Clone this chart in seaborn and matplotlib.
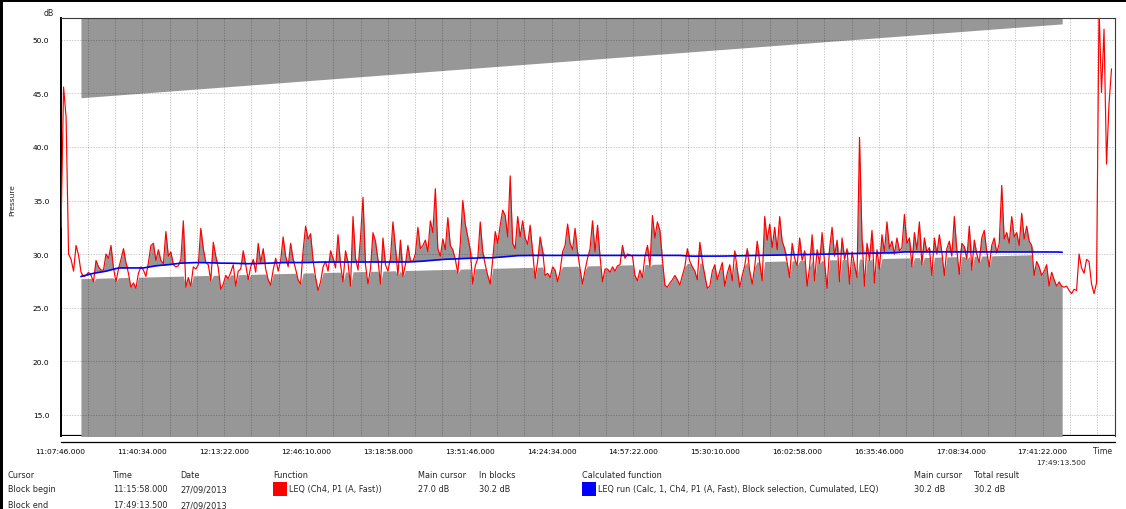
import numpy as np
import pandas as pd
import matplotlib
matplotlib.use('Agg')
import matplotlib.pyplot as plt
from matplotlib.lines import Line2D
from matplotlib.patches import Rectangle
from matplotlib.ticker import FixedLocator, FuncFormatter
import seaborn as sns


def hms(s):
    h, m, sec = s.split(':')
    return int(h) * 3600 + int(m) * 60 + float(sec)


def fmt_time(v, pos=None):
    v = int(round(v))
    return f'{v // 3600:02d}:{v % 3600 // 60:02d}:{v % 60:02d}.000'


axis_start = '11:07:46.000'
axis_end = '18:10:24.000'
tick_step_s = 1968
block_begin = '11:15:58.000'
block_end = '17:49:13.500'

# LEQ (Ch4, P1 (A, Fast)), one value per minute
red_start = '11:08:00'
red_step_s = 60
leq_fast = [
    32.5, 45.6, 42.8, 30.0, 29.5, 28.4, 30.8, 29.9, 28.3, 27.9,
    28.0, 28.3, 28.0, 27.4, 29.4, 28.8, 28.5, 28.5, 30.0, 29.6,
    30.8, 28.7, 27.4, 28.6, 29.5, 30.5, 29.2, 28.2, 26.9, 27.3,
    26.8, 28.2, 28.8, 28.5, 27.9, 29.2, 30.8, 31.0, 29.4, 30.4,
    29.4, 29.1, 32.1, 29.8, 30.2, 29.0, 28.8, 28.9, 29.5, 33.1,
    26.9, 27.8, 27.0, 28.8, 28.6, 29.0, 32.4, 30.5, 29.2, 29.0,
    27.5, 31.1, 29.8, 28.7, 26.7, 27.2, 28.0, 27.7, 28.3, 29.0,
    27.0, 28.4, 28.6, 30.3, 29.0, 27.6, 28.8, 29.5, 28.3, 31.0,
    29.2, 30.5, 28.6, 27.6, 27.1, 28.5, 29.6, 28.4, 29.4, 31.6,
    29.8, 28.8, 31.0, 29.5, 28.6, 27.6, 27.2, 30.3, 32.6, 31.4,
    31.9, 29.4, 27.8, 26.6, 27.4, 28.8, 29.3, 28.4, 30.3, 29.6,
    28.7, 31.8, 29.0, 27.4, 30.3, 29.2, 27.0, 33.5, 29.6, 28.5,
    31.5, 35.3, 29.0, 27.2, 28.6, 32.0, 31.2, 29.5, 27.2, 31.5,
    29.0, 28.4, 29.6, 33.0, 30.6, 28.0, 31.3, 27.9, 29.0, 30.8,
    29.4, 29.3, 30.0, 32.5, 30.5, 30.8, 31.3, 30.2, 33.1, 32.0,
    36.1, 30.5, 29.8, 31.4, 30.4, 33.4, 30.8, 30.4, 29.5, 28.2,
    31.0, 35.0, 32.8, 31.6, 30.4, 27.2, 28.9, 29.6, 33.0, 30.2,
    29.0, 28.0, 27.2, 29.5, 32.1, 31.0, 32.7, 34.1, 33.6, 31.6,
    37.3, 31.0, 30.5, 33.5, 31.6, 33.1, 31.5, 30.9, 32.7, 30.2,
    27.7, 29.3, 31.6, 30.3, 28.0, 28.2, 27.8, 28.8, 28.5, 27.4,
    28.4, 30.2, 30.8, 32.8, 31.0, 30.4, 32.4, 30.2, 28.6, 27.2,
    28.5, 29.6, 30.5, 33.1, 30.2, 32.7, 29.8, 27.4, 28.6, 28.6,
    28.3, 28.8, 28.4, 28.9, 29.0, 30.8, 29.6, 30.0, 29.9, 29.8,
    28.0, 27.5, 28.5, 27.8, 29.8, 30.8, 28.8, 33.6, 31.5, 33.0,
    32.2, 29.5, 27.1, 26.9, 27.3, 27.6, 28.0, 27.6, 27.1, 28.0,
    28.8, 30.5, 29.3, 28.8, 28.4, 27.6, 31.1, 29.3, 28.0, 26.8,
    27.0, 28.4, 29.0, 27.6, 28.4, 29.2, 27.0, 28.2, 29.0, 27.5,
    30.3, 28.6, 26.9, 28.0, 28.9, 30.5, 28.4, 27.2, 28.8, 31.2,
    29.2, 27.5, 33.5, 31.3, 32.8, 30.6, 32.5, 30.4, 33.5, 31.2,
    30.5, 29.2, 27.8, 31.0, 29.6, 28.9, 31.5, 29.4, 30.3, 27.0,
    28.8, 31.8, 27.5, 30.4, 29.1, 32.0, 29.2, 26.8, 30.5, 32.5,
    29.8, 31.3, 27.4, 31.5, 29.5, 30.5, 27.2, 30.2, 29.0, 27.8,
    40.9, 31.5, 27.0, 31.0, 29.4, 32.2, 27.3, 30.4, 28.6, 31.8,
    30.2, 33.0, 30.5, 31.2, 30.0, 31.5, 30.3, 30.6, 33.7, 31.0,
    31.5, 28.8, 32.0, 30.4, 33.0, 29.0, 31.5, 30.2, 30.6, 28.0,
    31.5, 30.0, 31.8, 30.2, 28.0, 30.5, 31.2, 29.8, 33.5, 30.4,
    28.1, 31.0, 30.7, 29.5, 32.6, 28.5, 31.3, 30.0, 29.2, 31.5,
    32.2, 30.2, 28.8, 30.8, 31.5, 30.1, 31.0, 36.4, 31.4, 32.0,
    31.0, 33.5, 31.6, 32.0, 30.8, 33.8, 31.4, 32.6, 31.2, 30.8,
    28.0, 29.3, 28.8, 28.0, 28.4, 29.0, 27.0, 28.3, 27.6, 27.0,
    27.4, 27.0, 26.9, 27.0, 26.6, 26.3, 26.7, 26.6, 30.0, 28.7,
    28.2, 29.5, 29.3, 27.2, 26.3, 27.3, 53.0, 45.1, 51.0, 38.4,
    44.0, 47.3,
]

# LEQ run (Calc, cumulated), every 5 minutes
blue_start = '11:16:00'
blue_step_s = 300
leq_run = [
    27.9, 28.2, 28.4, 28.7, 28.7, 28.7, 28.9, 29.0, 29.15, 29.2,
    29.2, 29.15, 29.15, 29.1, 29.1, 29.15, 29.2, 29.2, 29.2, 29.25,
    29.25, 29.25, 29.25, 29.25, 29.25, 29.25, 29.25, 29.3, 29.4, 29.5,
    29.55, 29.6, 29.65, 29.65, 29.75, 29.85, 29.87, 29.87, 29.87, 29.87,
    29.87, 29.87, 29.87, 29.87, 29.87, 29.87, 29.87, 29.87, 29.87, 29.8,
    29.8, 29.8, 29.82, 29.85, 29.85, 29.88, 29.9, 29.93, 29.95, 29.97,
    30.0, 30.03, 30.05, 30.07, 30.1, 30.1, 30.2, 30.2, 30.2, 30.2,
    30.2, 30.2, 30.2, 30.2, 30.2, 30.2, 30.2, 30.2, 30.2, 30.15,
]

# edges of the selection shading at block begin / block end (dB)
band_low = [27.7, 30.0]
band_top = [44.6, 51.5]

y_ticks = [15, 20, 25, 30, 35, 40, 45, 50]

table_header = ['Cursor', 'Time', 'Date', 'Function', 'Main cursor', 'In blocks',
                'Calculated function', 'Main cursor', 'Total result']
row_begin = ['Block begin', '11:15:58.000', '27/09/2013', 'LEQ (Ch4, P1 (A, Fast))',
             '27.0 dB', '30.2 dB',
             'LEQ run (Calc, 1, Ch4, P1 (A, Fast), Block selection, Cumulated, LEQ)',
             '30.2 dB', '30.2 dB']
row_end = ['Block end', '17:49:13.500', '27/09/2013']

# --- figure ---
sns.set_style('white')
plt.rcParams['font.family'] = ['DejaVu Sans']

W, H = 1126, 510
fig = plt.figure(figsize=(W / 100, H / 100), dpi=100)
ax = fig.add_axes([60.5 / W, 1 - 437 / H, (1115 - 60.5) / W, (437 - 19) / H])

t_red = hms(red_start) + red_step_s * np.arange(len(leq_fast))
t_blue = hms(blue_start) + blue_step_s * np.arange(len(leq_run))
tb0, tb1 = hms(block_begin), hms(block_end)
x0, x1 = hms(axis_start), hms(axis_end)
y0, y1 = 13.0, 52.05

inside = (t_red > tb0) & (t_red < tb1)
tb = np.concatenate([[tb0], t_red[inside], [tb1]])
rb = np.interp(tb, t_red, leq_fast)
lb = np.interp(tb, [tb0, tb1], band_low)
bb = np.interp(tb, t_blue, leq_run)

grey = '#979797'
ax.fill_between(tb, y0 - 1, np.minimum(rb, lb), color=grey, lw=0, zorder=1)
ax.fill_between(tb, bb, np.maximum(rb, bb), color=grey, lw=0, zorder=1)
ax.fill_between([tb0, tb1], band_top, y1 + 1, color=grey, lw=0, zorder=1)
ax.axhline(y0, color='black', lw=1.6, zorder=0.5)

df_red = pd.DataFrame({'t': t_red, 'db': leq_fast})
sns.lineplot(data=df_red, x='t', y='db', ax=ax, color='#ff0000', lw=0.85, zorder=4)
df_blue = pd.DataFrame({'t': tb, 'db': bb})
sns.lineplot(data=df_blue, x='t', y='db', ax=ax, color='#0000ff', lw=1.2, zorder=5)

ax.set_xlim(x0, x1)
ax.set_ylim(y0, y1)
ax.set_xlabel('')
ax.set_ylabel('')

major = x0 + tick_step_s * np.arange(13)
minor = x0 + tick_step_s / 3 * np.arange(39)
ax.xaxis.set_major_locator(FixedLocator(major))
ax.xaxis.set_minor_locator(FixedLocator(minor))
ax.xaxis.set_major_formatter(FuncFormatter(fmt_time))
ax.set_yticks(y_ticks)
ax.set_yticklabels([f'{v:.1f}' for v in y_ticks])
ax.tick_params(axis='both', which='both', direction='inout', length=4, width=0.8,
               colors='black', labelsize=5.4)
ax.tick_params(axis='x', which='both', pad=2.5)
ax.tick_params(axis='y', pad=6)

grid_kw = dict(color='black', alpha=0.25, lw=0.6, linestyle=(0, (1.6, 1.6)))
ax.grid(True, axis='x', which='both', **grid_kw)
ax.grid(True, axis='y', which='major', **grid_kw)
ax.set_axisbelow(False)

for side in ['top', 'right']:
    ax.spines[side].set_color('#3a3a3a')
    ax.spines[side].set_linewidth(0.8)
ax.spines['left'].set_color('black')
ax.spines['left'].set_linewidth(1.4)
ax.spines['bottom'].set_color('black')
ax.spines['bottom'].set_linewidth(0.9)
ax.spines['bottom'].set_position(('outward', 4))


def ftext(x, y, s, **kw):
    fig.text(x / W, 1 - y / H, s, va='center', **kw)


ftext(49, 13, 'dB', ha='center', fontsize=5.6)
ftext(12, 200, 'Pressure', ha='center', rotation=90, fontsize=5.4)
ftext(1103, 452, 'Time', ha='center', fontsize=5.6)
ftext(1061, 463, block_end, ha='center', fontsize=5.4)

cols = [8, 113, 180, 273, 418, 479, 582, 914, 974]
begin_cols = [8, 113, 180, 289, 418, 479, 598, 914, 974]
for x, s in zip(cols, table_header):
    ftext(x, 476, s, ha='left', fontsize=5.9)
for x, s in zip(begin_cols, row_begin):
    ftext(x, 490, s, ha='left', fontsize=5.9)
for x, s in zip(cols, row_end):
    ftext(x, 506, s, ha='left', fontsize=5.9)

for x, c in [(273, '#ff0000'), (582, '#0000ff')]:
    fig.add_artist(Rectangle((x / W, 1 - 497 / H), 14 / W, 14 / H,
                             transform=fig.transFigure, facecolor=c, edgecolor='none'))

fig.add_artist(Line2D([0, 1], [1, 1], transform=fig.transFigure, color='black', lw=4.3))
fig.add_artist(Line2D([0, 0], [0, 1], transform=fig.transFigure, color='black', lw=4.3))

fig.savefig('out.png', dpi=100)
